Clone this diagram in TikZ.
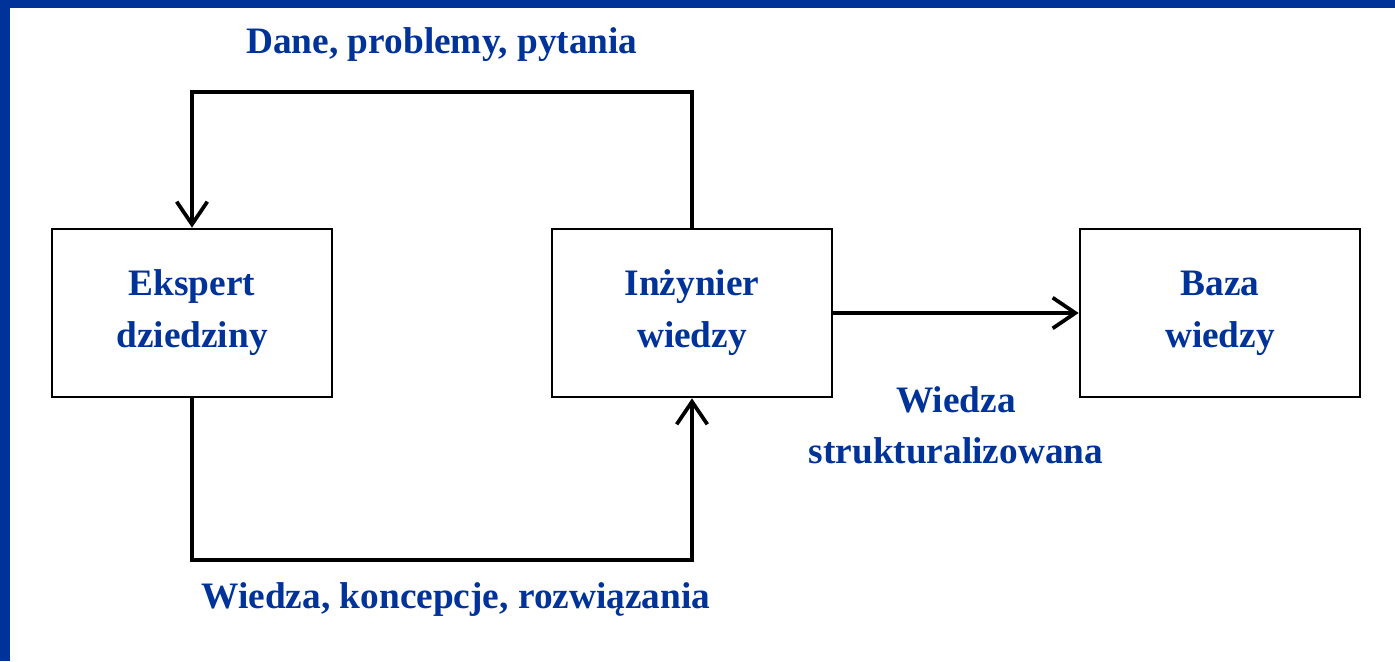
\documentclass[tikz,border=0pt]{standalone}
\usepackage{fontspec}
\setmainfont{Liberation Serif}
\usetikzlibrary{arrows.meta}
\definecolor{titleblue}{RGB}{0,51,153}
\begin{document}
\begin{tikzpicture}[x=0.75pt,y=-0.75pt,
  box/.style={draw=black, line width=2pt, minimum width=210pt, minimum height=126pt,
    inner sep=0pt, align=center, text=titleblue,
    font=\bfseries\fontsize{28}{39}\selectfont},
  caption/.style={anchor=base, inner sep=0pt, text=titleblue,
    font=\bfseries\fontsize{28}{33}\selectfont},
  flow/.style={line width=2.8pt, -{Straight Barb[length=17pt, width=23pt]}}]
% page and blue frame
\useasboundingbox (0,0) rectangle (1395,661);
\fill[white] (0,0) rectangle (1395,661);
\fill[titleblue] (0,0) rectangle (1395,8);
\fill[titleblue] (0,0) rectangle (10,661);

% the three actors
\node[box] (eks) at (192,313) {Ekspert\\dziedziny};
\node[box] (inz) at (692,313) {Inżynier\\wiedzy};
\node[box] (baza) at (1220,313) {Baza\\wiedzy};

% levels of the feedback loop
\coordinate (topline) at (0,92);
\coordinate (botline) at (0,560);

% connectors
\draw[flow] (inz.north) -- (inz.north |- topline) -| (eks.north);
\draw[flow] (eks.south) -- (eks.south |- botline) -| (inz.south);
\draw[flow] (inz.east) -- (baza.west);

% connector labels
\node[caption] (lbltop) at (442,53) {Dane, problemy, pytania};
\node[caption] (lblbot) at (456,608) {Wiedza, koncepcje, rozwiązania};
\node[caption] (lblmid1) at (956,412) {Wiedza};
\node[caption] (lblmid2) at (956,463) {strukturalizowana};
\end{tikzpicture}
\end{document}
